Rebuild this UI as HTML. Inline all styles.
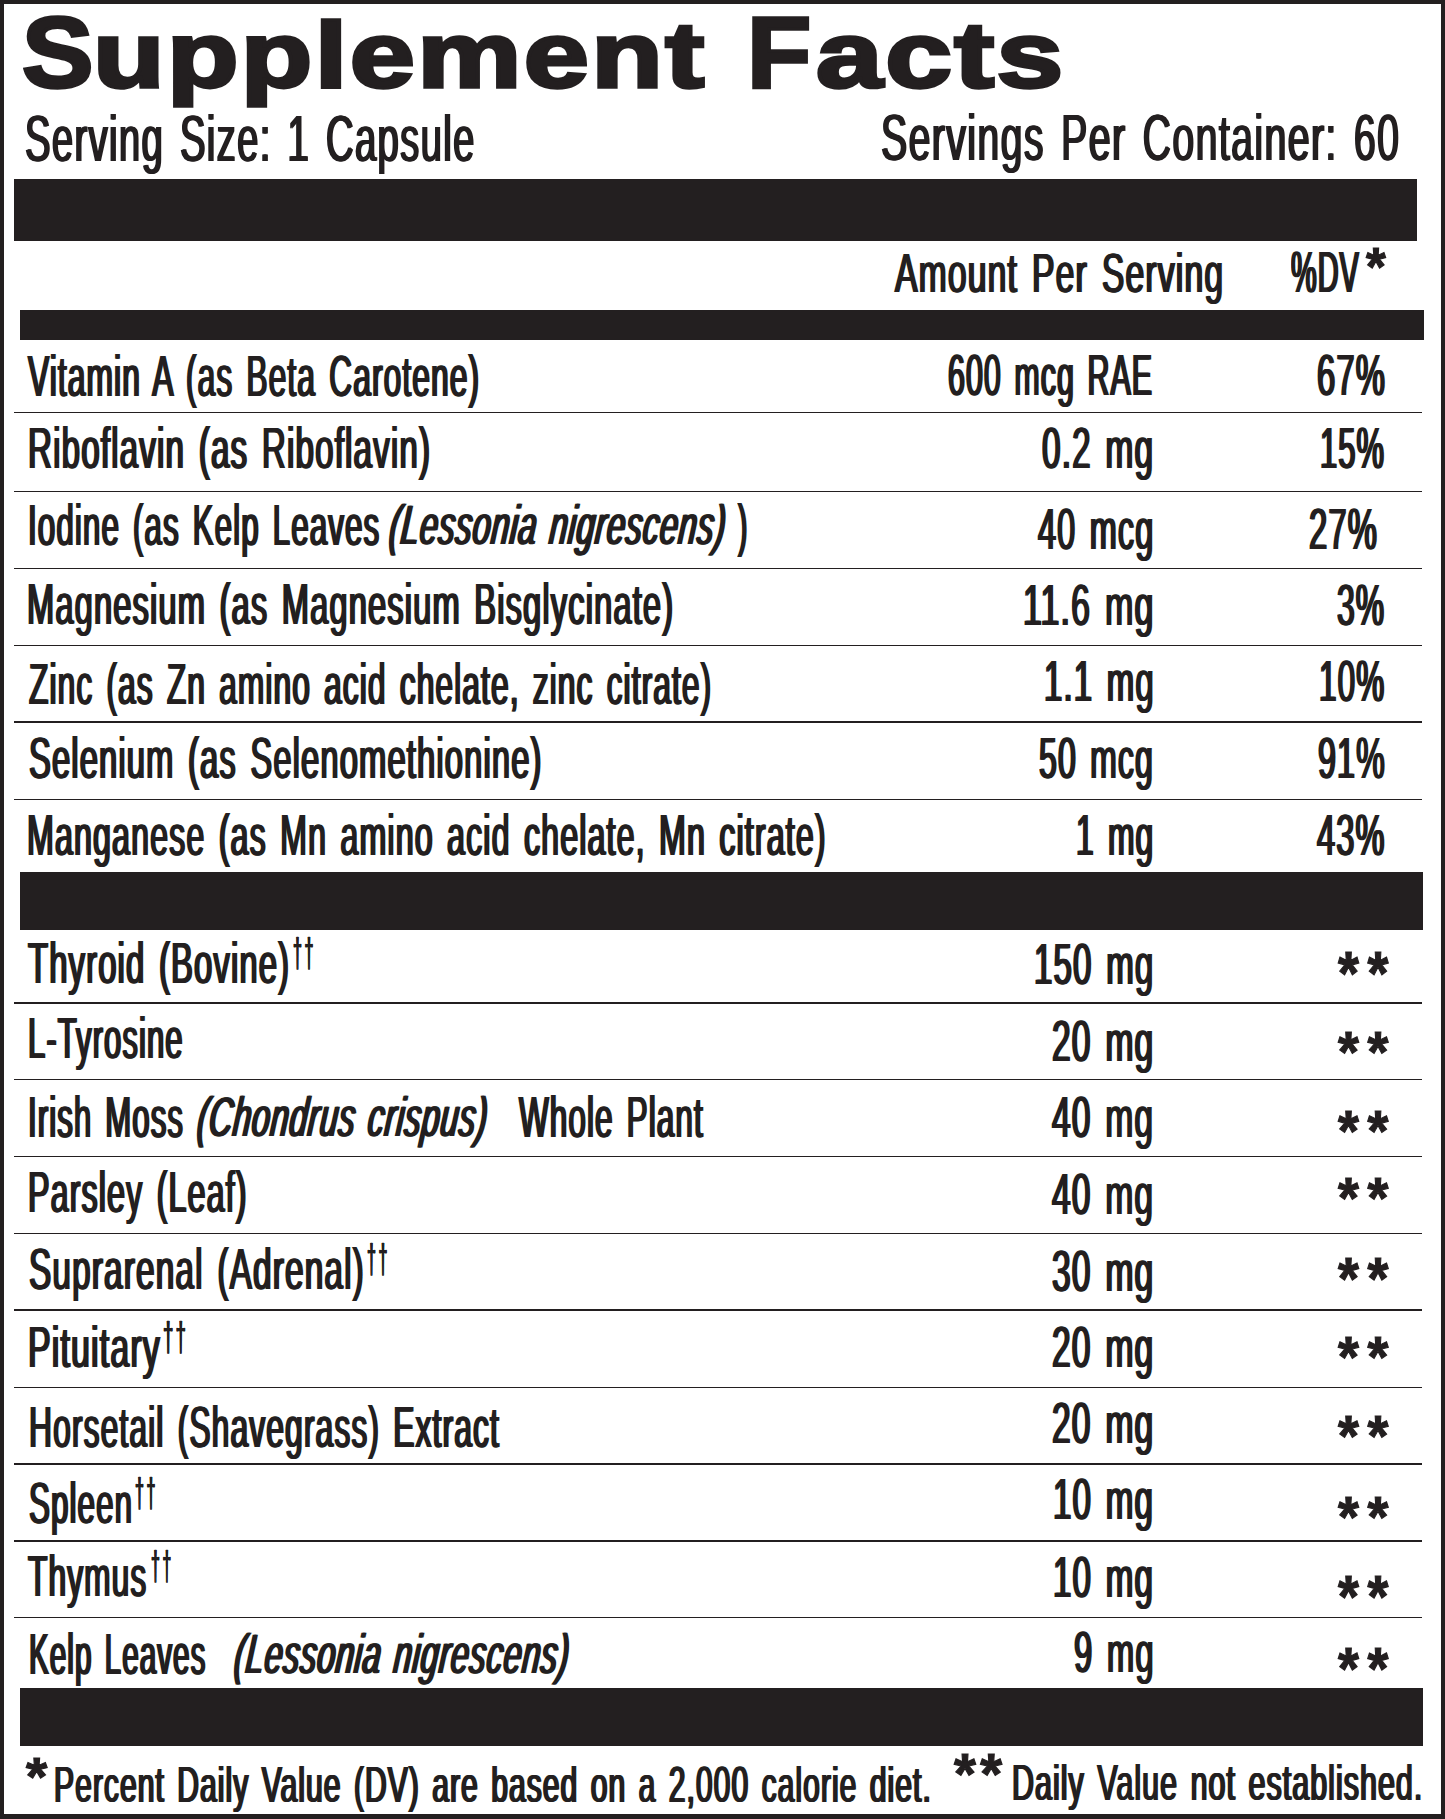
<!DOCTYPE html><html><head><meta charset="utf-8"><title>Supplement Facts</title><style>
html,body{margin:0;padding:0;background:#fff}
#p{position:relative;width:1445px;height:1819px;overflow:hidden;background:#fff;color:#231f20;font-family:"Liberation Sans",sans-serif}
.t{position:absolute;white-space:nowrap;line-height:1;transform-origin:0 0;display:block}
.i{font-style:italic;transform-origin:0 0.8467em}.b{font-weight:bold}
.a{font-weight:bold}
.k{position:absolute;background:#231f20}
h1{margin:0;font:inherit}
.n{display:inline-block;transform-origin:0 0}
</style></head><body><div id="p">
<div class="k" style="left:0;top:0;width:1445px;height:3.9px"></div>
<div class="k" style="left:0;top:0;width:4.3px;height:1819px"></div>
<div class="k" style="left:1440.6px;top:0;width:4.4px;height:1819px"></div>
<div class="k" style="left:0;top:1814.3px;width:1445px;height:4.7px"></div>
<div class="k" style="left:13.7px;top:178.8px;width:1403.5px;height:61.9px"></div>
<div class="k" style="left:20px;top:310px;width:1403.6px;height:30.1px"></div>
<div class="k" style="left:19.9px;top:872.3px;width:1403.6px;height:58.0px"></div>
<div class="k" style="left:19.9px;top:1687.8px;width:1403.6px;height:58.1px"></div>
<div class="k" style="left:14.2px;top:411.65px;width:1407.6px;height:1.5px"></div>
<div class="k" style="left:14.2px;top:490.55px;width:1407.6px;height:1.5px"></div>
<div class="k" style="left:14.2px;top:567.95px;width:1407.6px;height:1.5px"></div>
<div class="k" style="left:14.2px;top:644.75px;width:1407.6px;height:1.5px"></div>
<div class="k" style="left:14.2px;top:721.45px;width:1407.6px;height:1.5px"></div>
<div class="k" style="left:14.2px;top:798.55px;width:1407.6px;height:1.5px"></div>
<div class="k" style="left:14.2px;top:1002.15px;width:1407.6px;height:1.5px"></div>
<div class="k" style="left:14.2px;top:1078.95px;width:1407.6px;height:1.5px"></div>
<div class="k" style="left:14.2px;top:1155.85px;width:1407.6px;height:1.5px"></div>
<div class="k" style="left:14.2px;top:1232.75px;width:1407.6px;height:1.5px"></div>
<div class="k" style="left:14.2px;top:1309.45px;width:1407.6px;height:1.5px"></div>
<div class="k" style="left:14.2px;top:1386.55px;width:1407.6px;height:1.5px"></div>
<div class="k" style="left:14.2px;top:1463.35px;width:1407.6px;height:1.5px"></div>
<div class="k" style="left:14.2px;top:1540.05px;width:1407.6px;height:1.5px"></div>
<div class="k" style="left:14.2px;top:1616.75px;width:1407.6px;height:1.5px"></div>
<header>
<h1><span class="t b" style="left:21.78px;top:2.03px;font-size:100.00px;transform:scaleX(1.0714);letter-spacing:2.00px;-webkit-text-stroke:3.4px #231f20;">S</span><span class="t b" style="left:92.76px;top:7.53px;font-size:93.50px;transform:scaleX(1.2534);letter-spacing:1.87px;-webkit-text-stroke:3.4px #231f20;">upplement</span> <span class="t b" style="left:746.68px;top:2.03px;font-size:100.00px;transform:scaleX(1.0505);letter-spacing:2.00px;-webkit-text-stroke:3.4px #231f20;">F</span><span class="t b" style="left:815.62px;top:7.53px;font-size:93.50px;transform:scaleX(1.2833);letter-spacing:1.87px;-webkit-text-stroke:3.4px #231f20;">acts</span></h1>
<span class="t r" style="left:24.76px;top:107.04px;font-size:64.56px;transform:scaleX(0.5929);letter-spacing:2.26px;word-spacing:6.46px;text-shadow:1.60px 0 0 #231f20,-1.60px 0 0 #231f20;">Serving Size: 1 Capsule</span>
<span class="t r" style="left:880.73px;top:106.34px;font-size:64.56px;transform:scaleX(0.6088);letter-spacing:2.26px;word-spacing:6.46px;text-shadow:1.56px 0 0 #231f20,-1.56px 0 0 #231f20;">Servings Per Container: 60</span>
</header>
<div class="colhead">
<span class="t r" style="left:895.35px;top:244.92px;font-size:56.32px;transform:scaleX(0.5979);letter-spacing:1.97px;word-spacing:5.63px;text-shadow:1.59px 0 0 #231f20,-1.59px 0 0 #231f20;">Amount Per Serving</span>
<span class="t r" style="left:1291.44px;top:243.70px;font-size:57.28px;transform:scaleX(0.5042);letter-spacing:2.00px;word-spacing:5.73px;text-shadow:1.88px 0 0 #231f20,-1.88px 0 0 #231f20;">%DV</span>
<span class="t a" style="left:1365.96px;top:238.71px;font-size:54.21px;transform:scaleX(0.9355);-webkit-text-stroke:1.2px #231f20;">*</span>
</div>
<div class="row">
<span class="t r" style="left:28.45px;top:347.62px;font-size:57.14px;transform:scaleX(0.5552);letter-spacing:2.00px;word-spacing:5.71px;text-shadow:1.71px 0 0 #231f20,-1.71px 0 0 #231f20;">Vitamin A (as Beta Carotene)</span>
<span class="t r" style="left:948.18px;top:348.47px;font-size:56.73px;transform:scaleX(0.5354);letter-spacing:1.99px;word-spacing:5.67px;text-shadow:1.77px 0 0 #231f20,-1.77px 0 0 #231f20;">600 mcg RAE</span>
<span class="t r" style="left:1316.59px;top:348.47px;font-size:56.73px;transform:scaleX(0.5786);letter-spacing:1.99px;word-spacing:5.67px;text-shadow:1.64px 0 0 #231f20,-1.64px 0 0 #231f20;">67%</span>
</div>
<div class="row">
<span class="t r" style="left:28.33px;top:420.12px;font-size:57.14px;transform:scaleX(0.5799);letter-spacing:2.00px;word-spacing:5.71px;text-shadow:1.64px 0 0 #231f20,-1.64px 0 0 #231f20;">Riboflavin (as Riboflavin)</span>
<span class="t r" style="left:1042.38px;top:420.57px;font-size:56.73px;transform:scaleX(0.5871);letter-spacing:1.99px;word-spacing:5.67px;text-shadow:1.62px 0 0 #231f20,-1.62px 0 0 #231f20;">0.2 mg</span>
<span class="t r" style="left:1320.47px;top:420.57px;font-size:56.73px;transform:scaleX(0.5452);letter-spacing:1.99px;word-spacing:5.67px;text-shadow:1.74px 0 0 #231f20,-1.74px 0 0 #231f20;">15%</span>
</div>
<div class="row">
<span class="t r" style="left:28.31px;top:497.12px;font-size:57.14px;transform:scaleX(0.5485);letter-spacing:2.00px;word-spacing:5.71px;text-shadow:1.73px 0 0 #231f20,-1.73px 0 0 #231f20;">Iodine (as Kelp Leaves</span>
<span class="t i" style="left:387.73px;top:498.39px;font-size:55.52px;transform:skewX(-5.89deg) scaleX(0.5780);letter-spacing:1.67px;word-spacing:4.44px;text-shadow:1.99px 0 0 #231f20,-1.99px 0 0 #231f20;">(Lessonia nigrescens)</span>
<span class="t r" style="left:737.65px;top:497.12px;font-size:57.14px;transform:scaleX(0.4875);letter-spacing:2.00px;word-spacing:5.71px;text-shadow:1.95px 0 0 #231f20,-1.95px 0 0 #231f20;">)</span>
<span class="t r" style="left:1038.08px;top:502.37px;font-size:56.73px;transform:scaleX(0.5714);letter-spacing:1.99px;word-spacing:5.67px;text-shadow:1.66px 0 0 #231f20,-1.66px 0 0 #231f20;">40 mcg</span>
<span class="t r" style="left:1309.09px;top:502.37px;font-size:56.73px;transform:scaleX(0.5786);letter-spacing:1.99px;word-spacing:5.67px;text-shadow:1.64px 0 0 #231f20,-1.64px 0 0 #231f20;">27%</span>
</div>
<div class="row">
<span class="t r" style="left:27.26px;top:575.62px;font-size:57.14px;transform:scaleX(0.5715);letter-spacing:2.00px;word-spacing:5.71px;text-shadow:1.66px 0 0 #231f20,-1.66px 0 0 #231f20;">Magnesium (as Magnesium Bisglycinate)</span>
<span class="t r" style="left:1023.06px;top:578.27px;font-size:56.73px;transform:scaleX(0.5969);letter-spacing:1.99px;word-spacing:5.67px;text-shadow:1.59px 0 0 #231f20,-1.59px 0 0 #231f20;">11.6 mg</span>
<span class="t r" style="left:1337.43px;top:578.27px;font-size:56.73px;transform:scaleX(0.5613);letter-spacing:1.99px;word-spacing:5.67px;text-shadow:1.69px 0 0 #231f20,-1.69px 0 0 #231f20;">3%</span>
</div>
<div class="row">
<span class="t r" style="left:28.50px;top:656.42px;font-size:57.14px;transform:scaleX(0.5548);letter-spacing:2.00px;word-spacing:5.71px;text-shadow:1.71px 0 0 #231f20,-1.71px 0 0 #231f20;">Zinc (as Zn amino acid chelate, zinc citrate)</span>
<span class="t r" style="left:1043.63px;top:654.37px;font-size:56.73px;transform:scaleX(0.5803);letter-spacing:1.99px;word-spacing:5.67px;text-shadow:1.64px 0 0 #231f20,-1.64px 0 0 #231f20;">1.1 mg</span>
<span class="t r" style="left:1319.33px;top:654.37px;font-size:56.73px;transform:scaleX(0.5551);letter-spacing:1.99px;word-spacing:5.67px;text-shadow:1.71px 0 0 #231f20,-1.71px 0 0 #231f20;">10%</span>
</div>
<div class="row">
<span class="t r" style="left:29.01px;top:730.32px;font-size:57.14px;transform:scaleX(0.5725);letter-spacing:2.00px;word-spacing:5.71px;text-shadow:1.66px 0 0 #231f20,-1.66px 0 0 #231f20;">Selenium (as Selenomethionine)</span>
<span class="t r" style="left:1039.42px;top:731.47px;font-size:56.73px;transform:scaleX(0.5646);letter-spacing:1.99px;word-spacing:5.67px;text-shadow:1.68px 0 0 #231f20,-1.68px 0 0 #231f20;">50 mcg</span>
<span class="t r" style="left:1317.81px;top:731.47px;font-size:56.73px;transform:scaleX(0.5681);letter-spacing:1.99px;word-spacing:5.67px;text-shadow:1.67px 0 0 #231f20,-1.67px 0 0 #231f20;">91%</span>
</div>
<div class="row">
<span class="t r" style="left:27.30px;top:806.62px;font-size:57.14px;transform:scaleX(0.5637);letter-spacing:2.00px;word-spacing:5.71px;text-shadow:1.69px 0 0 #231f20,-1.69px 0 0 #231f20;">Manganese (as Mn amino acid chelate, Mn citrate)</span>
<span class="t r" style="left:1076.01px;top:808.07px;font-size:56.73px;transform:scaleX(0.5608);letter-spacing:1.99px;word-spacing:5.67px;text-shadow:1.69px 0 0 #231f20,-1.69px 0 0 #231f20;">1 mg</span>
<span class="t r" style="left:1317.18px;top:808.07px;font-size:56.73px;transform:scaleX(0.5736);letter-spacing:1.99px;word-spacing:5.67px;text-shadow:1.66px 0 0 #231f20,-1.66px 0 0 #231f20;">43%</span>
</div>
<div class="row">
<span class="t r" style="left:27.88px;top:935.02px;font-size:57.14px;transform:scaleX(0.5741);letter-spacing:2.00px;word-spacing:5.71px;text-shadow:1.65px 0 0 #231f20,-1.65px 0 0 #231f20;">Thyroid (Bovine)</span>
<span class="t d" style="left:293.11px;top:933.52px;font-size:40.13px;transform:scaleX(0.4005);letter-spacing:6.28px;-webkit-text-stroke:0.6px #231f20;text-shadow:1.12px 0 0 #231f20,-1.12px 0 0 #231f20;">††</span>
<span class="t r" style="left:1034.02px;top:937.27px;font-size:56.73px;transform:scaleX(0.5825);letter-spacing:1.99px;word-spacing:5.67px;text-shadow:1.63px 0 0 #231f20,-1.63px 0 0 #231f20;">150 mg</span>
<span class="t a" style="left:1337.72px;top:941.75px;font-size:61.58px;transform:scaleX(0.8725);letter-spacing:9.85px;-webkit-text-stroke:1.2px #231f20;">**</span>
</div>
<div class="row">
<span class="t r" style="left:28.48px;top:1009.82px;font-size:57.14px;transform:scaleX(0.5428);letter-spacing:2.00px;word-spacing:5.71px;text-shadow:1.75px 0 0 #231f20,-1.75px 0 0 #231f20;">L-Tyrosine</span>
<span class="t r" style="left:1052.17px;top:1013.67px;font-size:56.73px;transform:scaleX(0.5908);letter-spacing:1.99px;word-spacing:5.67px;text-shadow:1.61px 0 0 #231f20,-1.61px 0 0 #231f20;">20 mg</span>
<span class="t a" style="left:1337.76px;top:1023.97px;font-size:57.63px;transform:scaleX(0.9292);letter-spacing:9.32px;-webkit-text-stroke:1.2px #231f20;">**</span>
</div>
<div class="row">
<span class="t r" style="left:27.92px;top:1088.52px;font-size:57.14px;transform:scaleX(0.5457);letter-spacing:2.00px;word-spacing:5.71px;text-shadow:1.74px 0 0 #231f20,-1.74px 0 0 #231f20;">Irish Moss</span>
<span class="t i" style="left:195.84px;top:1089.89px;font-size:55.52px;transform:skewX(-5.90deg) scaleX(0.5768);letter-spacing:1.67px;word-spacing:4.44px;text-shadow:1.99px 0 0 #231f20,-1.99px 0 0 #231f20;">(Chondrus crispus)</span>
<span class="t r" style="left:518.95px;top:1088.52px;font-size:57.14px;transform:scaleX(0.5506);letter-spacing:2.00px;word-spacing:5.71px;text-shadow:1.73px 0 0 #231f20,-1.73px 0 0 #231f20;">Whole Plant</span>
<span class="t r" style="left:1052.36px;top:1089.97px;font-size:56.73px;transform:scaleX(0.5897);letter-spacing:1.99px;word-spacing:5.67px;text-shadow:1.61px 0 0 #231f20,-1.61px 0 0 #231f20;">40 mg</span>
<span class="t a" style="left:1337.76px;top:1102.61px;font-size:57.37px;transform:scaleX(0.9332);letter-spacing:9.28px;-webkit-text-stroke:1.2px #231f20;">**</span>
</div>
<div class="row">
<span class="t r" style="left:28.39px;top:1163.72px;font-size:57.14px;transform:scaleX(0.5641);letter-spacing:2.00px;word-spacing:5.71px;text-shadow:1.68px 0 0 #231f20,-1.68px 0 0 #231f20;">Parsley (Leaf)</span>
<span class="t r" style="left:1052.36px;top:1166.97px;font-size:56.73px;transform:scaleX(0.5897);letter-spacing:1.99px;word-spacing:5.67px;text-shadow:1.61px 0 0 #231f20,-1.61px 0 0 #231f20;">40 mg</span>
<span class="t a" style="left:1337.76px;top:1169.65px;font-size:57.11px;transform:scaleX(0.9373);letter-spacing:9.25px;-webkit-text-stroke:1.2px #231f20;">**</span>
</div>
<div class="row">
<span class="t r" style="left:28.98px;top:1241.32px;font-size:57.14px;transform:scaleX(0.5832);letter-spacing:2.00px;word-spacing:5.71px;text-shadow:1.63px 0 0 #231f20,-1.63px 0 0 #231f20;">Suprarenal (Adrenal)</span>
<span class="t d" style="left:366.71px;top:1239.82px;font-size:40.13px;transform:scaleX(0.4005);letter-spacing:6.28px;-webkit-text-stroke:0.6px #231f20;text-shadow:1.12px 0 0 #231f20,-1.12px 0 0 #231f20;">††</span>
<span class="t r" style="left:1052.17px;top:1243.67px;font-size:56.73px;transform:scaleX(0.5908);letter-spacing:1.99px;word-spacing:5.67px;text-shadow:1.61px 0 0 #231f20,-1.61px 0 0 #231f20;">30 mg</span>
<span class="t a" style="left:1337.74px;top:1249.24px;font-size:59.74px;transform:scaleX(0.8981);letter-spacing:9.60px;-webkit-text-stroke:1.2px #231f20;">**</span>
</div>
<div class="row">
<span class="t r" style="left:28.28px;top:1319.02px;font-size:57.14px;transform:scaleX(0.5924);letter-spacing:2.00px;word-spacing:5.71px;text-shadow:1.60px 0 0 #231f20,-1.60px 0 0 #231f20;">Pituitary</span>
<span class="t d" style="left:162.67px;top:1317.52px;font-size:40.13px;transform:scaleX(0.4649);letter-spacing:4.79px;-webkit-text-stroke:0.6px #231f20;text-shadow:0.97px 0 0 #231f20,-0.97px 0 0 #231f20;">††</span>
<span class="t r" style="left:1052.17px;top:1319.77px;font-size:56.73px;transform:scaleX(0.5908);letter-spacing:1.99px;word-spacing:5.67px;text-shadow:1.61px 0 0 #231f20,-1.61px 0 0 #231f20;">20 mg</span>
<span class="t a" style="left:1337.76px;top:1329.17px;font-size:57.63px;transform:scaleX(0.9292);letter-spacing:9.32px;-webkit-text-stroke:1.2px #231f20;">**</span>
</div>
<div class="row">
<span class="t r" style="left:28.82px;top:1399.32px;font-size:57.14px;transform:scaleX(0.5567);letter-spacing:2.00px;word-spacing:5.71px;text-shadow:1.71px 0 0 #231f20,-1.71px 0 0 #231f20;">Horsetail (Shavegrass) Extract</span>
<span class="t r" style="left:1052.17px;top:1396.07px;font-size:56.73px;transform:scaleX(0.5908);letter-spacing:1.99px;word-spacing:5.67px;text-shadow:1.61px 0 0 #231f20,-1.61px 0 0 #231f20;">20 mg</span>
<span class="t a" style="left:1337.76px;top:1407.67px;font-size:57.63px;transform:scaleX(0.9292);letter-spacing:9.32px;-webkit-text-stroke:1.2px #231f20;">**</span>
</div>
<div class="row">
<span class="t r" style="left:29.05px;top:1475.02px;font-size:57.14px;transform:scaleX(0.5483);letter-spacing:2.00px;word-spacing:5.71px;text-shadow:1.73px 0 0 #231f20,-1.73px 0 0 #231f20;">Spleen</span>
<span class="t d" style="left:135.31px;top:1473.52px;font-size:40.13px;transform:scaleX(0.4005);letter-spacing:6.28px;-webkit-text-stroke:0.6px #231f20;text-shadow:1.12px 0 0 #231f20,-1.12px 0 0 #231f20;">††</span>
<span class="t r" style="left:1053.42px;top:1471.57px;font-size:56.73px;transform:scaleX(0.5834);letter-spacing:1.99px;word-spacing:5.67px;text-shadow:1.63px 0 0 #231f20,-1.63px 0 0 #231f20;">10 mg</span>
<span class="t a" style="left:1337.76px;top:1488.67px;font-size:57.63px;transform:scaleX(0.9292);letter-spacing:9.32px;-webkit-text-stroke:1.2px #231f20;">**</span>
</div>
<div class="row">
<span class="t r" style="left:27.90px;top:1548.22px;font-size:57.14px;transform:scaleX(0.5547);letter-spacing:2.00px;word-spacing:5.71px;text-shadow:1.71px 0 0 #231f20,-1.71px 0 0 #231f20;">Thymus</span>
<span class="t d" style="left:150.61px;top:1546.72px;font-size:40.13px;transform:scaleX(0.3977);letter-spacing:6.35px;-webkit-text-stroke:0.6px #231f20;text-shadow:1.13px 0 0 #231f20,-1.13px 0 0 #231f20;">††</span>
<span class="t r" style="left:1053.42px;top:1550.07px;font-size:56.73px;transform:scaleX(0.5834);letter-spacing:1.99px;word-spacing:5.67px;text-shadow:1.63px 0 0 #231f20,-1.63px 0 0 #231f20;">10 mg</span>
<span class="t a" style="left:1337.74px;top:1566.88px;font-size:59.47px;transform:scaleX(0.9018);letter-spacing:9.57px;-webkit-text-stroke:1.2px #231f20;">**</span>
</div>
<div class="row">
<span class="t r" style="left:28.58px;top:1625.62px;font-size:57.14px;transform:scaleX(0.5186);letter-spacing:2.00px;word-spacing:5.71px;text-shadow:1.83px 0 0 #231f20,-1.83px 0 0 #231f20;">Kelp Leaves</span>
<span class="t i" style="left:232.64px;top:1626.99px;font-size:55.52px;transform:skewX(-5.92deg) scaleX(0.5753);letter-spacing:1.67px;word-spacing:4.44px;text-shadow:2.00px 0 0 #231f20,-2.00px 0 0 #231f20;">(Lessonia nigrescens)</span>
<span class="t r" style="left:1073.69px;top:1625.27px;font-size:56.73px;transform:scaleX(0.5780);letter-spacing:1.99px;word-spacing:5.67px;text-shadow:1.64px 0 0 #231f20,-1.64px 0 0 #231f20;">9 mg</span>
</div>
<div class="row">
<span class="t a" style="left:1337.74px;top:1639.32px;font-size:59.21px;transform:scaleX(0.9056);letter-spacing:9.53px;-webkit-text-stroke:1.2px #231f20;">**</span>
</div>
<footer>
<span class="t a" style="left:25.51px;top:1749.99px;font-size:53.68px;transform:scaleX(1.0164);-webkit-text-stroke:1.2px #231f20;">*</span>
<span class="t r" style="left:53.98px;top:1760.49px;font-size:50.68px;transform:scaleX(0.5928);letter-spacing:1.77px;word-spacing:5.07px;text-shadow:1.60px 0 0 #231f20,-1.60px 0 0 #231f20;">Percent Daily Value (DV) are based on a 2,000 calorie diet.</span>
<span class="t a" style="left:953.59px;top:1746.15px;font-size:57.11px;transform:scaleX(0.9821);letter-spacing:4.40px;-webkit-text-stroke:1.2px #231f20;">**</span>
<span class="t r" style="left:1011.74px;top:1757.92px;font-size:50.41px;transform:scaleX(0.6025);letter-spacing:1.76px;word-spacing:5.04px;text-shadow:1.58px 0 0 #231f20,-1.58px 0 0 #231f20;">Daily Value not established.</span>
</footer>
</div></body></html>
